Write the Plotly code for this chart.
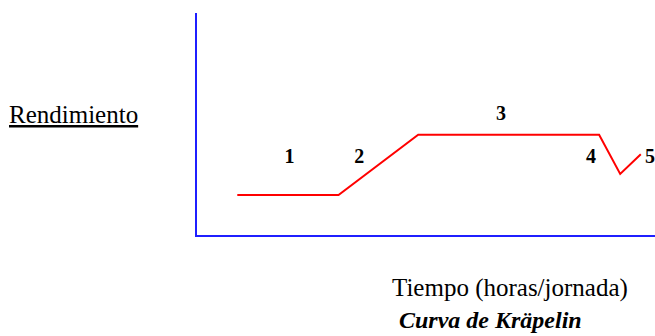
import plotly.graph_objects as go

# Curve data (time in arbitrary hour units, performance in arbitrary units)
TIME = [0.88, 3.09, 4.83, 8.78, 9.24, 9.69]
PERFORMANCE = [1.80, 1.80, 4.52, 4.52, 2.75, 3.64]

# Phase labels
PHASES = ["1", "2", "3", "4", "5"]
PHASE_X = [2.02, 3.54, 6.64, 8.60, 9.89]
PHASE_Y = [3.45, 3.45, 5.41, 3.45, 3.45]

Y_LABEL = "Rendimiento"
X_LABEL = "Tiempo (horas/jornada)"
TITLE = "Curva de Kräpelin"

SERIF = "Liberation Serif, Times New Roman, serif"

fig = go.Figure()
fig.add_trace(go.Scatter(
    x=TIME, y=PERFORMANCE, mode="lines",
    line=dict(color="#ff0000", width=2),
    hoverinfo="skip", showlegend=False,
))
fig.add_trace(go.Scatter(
    x=PHASE_X, y=PHASE_Y, mode="text",
    text=[f"<b>{p}</b>" for p in PHASES],
    textposition="middle center",
    textfont=dict(family=SERIF, size=20, color="#000000"),
    cliponaxis=False, hoverinfo="skip", showlegend=False,
))

axis_common = dict(
    showline=True, linecolor="#1f1fff", linewidth=2,
    showgrid=False, zeroline=False, showticklabels=False, ticks="",
    fixedrange=True,
)

fig.update_layout(
    width=655, height=336,
    margin=dict(l=197, r=0, t=13, b=101, pad=0),
    paper_bgcolor="white", plot_bgcolor="white",
    xaxis=dict(range=[0, 10], **axis_common),
    yaxis=dict(range=[0, 10], **axis_common),
    annotations=[
        dict(text=f"<u>{Y_LABEL}</u>", xref="paper", yref="paper",
             x=-0.2686, y=0.545, xanchor="center", yanchor="middle",
             showarrow=False, font=dict(family=SERIF, size=25, color="#000000")),
        dict(text=X_LABEL, xref="paper", yref="paper",
             x=0.683, y=-0.2387, xanchor="center", yanchor="middle",
             showarrow=False, font=dict(family=SERIF, size=25, color="#000000")),
        dict(text=f"<b><i>{TITLE}</i></b>", xref="paper", yref="paper",
             x=0.640, y=-0.452, xanchor="center", yanchor="bottom",
             showarrow=False, font=dict(family=SERIF, size=24, color="#000000")),
    ],
)

fig.write_html(
    "out.html",
    config={"displayModeBar": False},
    post_script="document.body.style.margin='0';document.body.style.overflow='hidden';",
)
